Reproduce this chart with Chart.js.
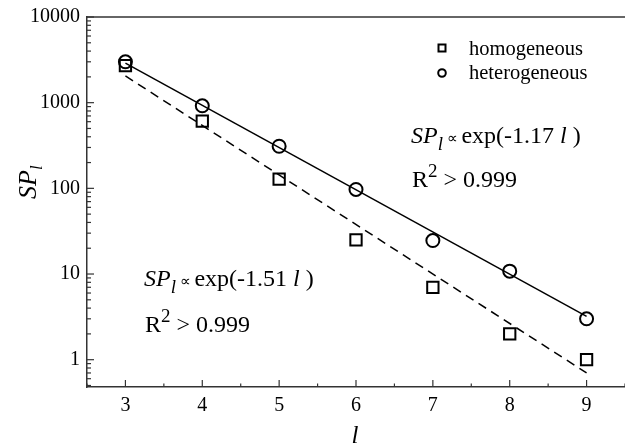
<!DOCTYPE html>
<html>
<head>
<meta charset="utf-8">
<script src="https://cdn.jsdelivr.net/npm/chart.js@4/dist/chart.umd.min.js"></script>
<style>
  html, body { margin: 0; padding: 0; background: #fff; }
  #wrap { width: 625px; height: 444px; }
</style>
</head>
<body>
<div id="wrap"><canvas id="chart" width="625" height="444"></canvas></div>
<script>
const lValues = [3, 4, 5, 6, 7, 8, 9];
const homogeneous = [2700, 610, 128, 25, 7, 2, 1];
const heterogeneous = [3000, 920, 310, 97, 24.6, 10.8, 3];
const fitL = [3, 9];
const fitHetero = [2900, 3.2];
const fitHomo = [2050, 0.7];
const xTickLabels = ['3', '4', '5', '6', '7', '8', '9'];
const yTickLabels = [1, 10, 100, 1000, 10000];

const serif = "'Liberation Serif', 'Times New Roman', serif";
const axisColor = '#333';

const toPoints = (xs, ys) => xs.map((x, i) => ({ x, y: ys[i] }));
const isMajorY = (v) => yTickLabels.includes(v);

// draw a run of text pieces with their own font and vertical shift
function drawRuns(ctx, x, y, runs) {
  let cx = x;
  runs.forEach((r) => {
    ctx.font = r.font;
    ctx.fillText(r.t, cx, y + (r.dy || 0));
    cx += ctx.measureText(r.t).width;
  });
}

const decorPlugin = {
  id: 'decor',
  afterDraw(chart) {
    const ctx = chart.ctx;
    const area = chart.chartArea;
    const xs = chart.scales.x;
    const ys = chart.scales.y;
    ctx.save();
    ctx.strokeStyle = axisColor;
    ctx.lineWidth = 1.5;

    // top frame line
    ctx.beginPath();
    ctx.moveTo(area.left, area.top);
    ctx.lineTo(area.right, area.top);
    ctx.stroke();

    // inward tick marks
    ctx.lineWidth = 1.2;
    xs.ticks.forEach((t) => {
      const px = xs.getPixelForValue(t.value);
      const len = Number.isInteger(t.value) ? 7 : 3.5;
      ctx.beginPath();
      ctx.moveTo(px, area.bottom);
      ctx.lineTo(px, area.bottom - len);
      ctx.stroke();
    });
    ys.ticks.forEach((t) => {
      const py = ys.getPixelForValue(t.value);
      const len = isMajorY(t.value) ? 7 : 4;
      ctx.beginPath();
      ctx.moveTo(area.left, py);
      ctx.lineTo(area.left + len, py);
      ctx.stroke();
    });

    ctx.fillStyle = '#000';
    ctx.textAlign = 'left';
    ctx.textBaseline = 'alphabetic';

    // legend
    ctx.strokeStyle = '#000';
    ctx.lineWidth = 2;
    ctx.strokeRect(438.5, 44.5, 7, 7);
    ctx.beginPath();
    ctx.arc(442, 73, 3.8, 0, Math.PI * 2);
    ctx.stroke();
    ctx.font = `20.5px ${serif}`;
    ctx.fillText('homogeneous', 469, 55);
    ctx.fillText('heterogeneous', 469, 79);

    // fit annotations
    const formula = (k) => [
      { t: 'SP', font: `italic 24px ${serif}` },
      { t: 'l', font: `italic 19px ${serif}`, dy: 7 },
      { t: ' \u221D ', font: `15px ${serif}` },
      { t: `exp(-${k} `, font: `24px ${serif}` },
      { t: 'l', font: `italic 24px ${serif}` },
      { t: ' )', font: `24px ${serif}` },
    ];
    const r2 = [
      { t: 'R', font: `24px ${serif}` },
      { t: '2', font: `19px ${serif}`, dy: -10 },
      { t: ' > 0.999', font: `24px ${serif}` },
    ];
    drawRuns(ctx, 411, 143, formula('1.17'));
    drawRuns(ctx, 412, 187, r2);
    drawRuns(ctx, 144, 286, formula('1.51'));
    drawRuns(ctx, 145, 332, r2);

    // axis titles
    ctx.font = `italic 25px ${serif}`;
    ctx.textAlign = 'center';
    ctx.fillText('l', 355, 443);

    ctx.save();
    ctx.translate(36, 199);
    ctx.rotate(-Math.PI / 2);
    ctx.textAlign = 'left';
    drawRuns(ctx, 0, 0, [
      { t: 'SP', font: `italic 26px ${serif}` },
      { t: 'l', font: `italic 17px ${serif}`, dy: 6 },
    ]);
    ctx.restore();

    ctx.restore();
  },
};

new Chart(document.getElementById('chart'), {
  type: 'scatter',
  data: {
    datasets: [
      {
        label: 'fit heterogeneous',
        type: 'line',
        data: toPoints(fitL, fitHetero),
        borderColor: '#000',
        borderWidth: 1.5,
        pointRadius: 0,
        fill: false,
      },
      {
        label: 'fit homogeneous',
        type: 'line',
        data: toPoints(fitL, fitHomo),
        borderColor: '#000',
        borderWidth: 1.5,
        borderDash: [9, 6],
        pointRadius: 0,
        fill: false,
      },
      {
        label: 'homogeneous',
        data: toPoints(lValues, homogeneous),
        pointStyle: 'rect',
        pointRadius: 8,
        borderColor: '#000',
        backgroundColor: 'rgba(0,0,0,0)',
        borderWidth: 2,
      },
      {
        label: 'heterogeneous',
        data: toPoints(lValues, heterogeneous),
        pointStyle: 'circle',
        pointRadius: 6.5,
        borderColor: '#000',
        backgroundColor: 'rgba(0,0,0,0)',
        borderWidth: 2,
      },
    ],
  },
  options: {
    responsive: false,
    animation: false,
    devicePixelRatio: 1,
    layout: { autoPadding: false, padding: { top: 17, right: 0, bottom: 0, left: 0 } },
    plugins: { legend: { display: false }, tooltip: { enabled: false } },
    scales: {
      x: {
        type: 'linear',
        min: 2.5,
        max: 9.5,
        grid: { display: false, drawTicks: false },
        border: { display: true, color: axisColor, width: 1.5 },
        ticks: {
          stepSize: 0.5,
          autoSkip: false,
          maxRotation: 0,
          padding: 7,
          color: '#000',
          font: { family: serif, size: 20 },
          callback: (v) => (xTickLabels.includes(String(v)) ? String(v) : ''),
        },
        afterFit: (s) => { s.height = 57; s.paddingLeft = 0; s.paddingRight = 0; },
      },
      y: {
        type: 'logarithmic',
        min: 0.48,
        max: 10000,
        grid: { display: false, drawTicks: false },
        border: { display: true, color: axisColor, width: 1.5 },
        afterBuildTicks: (s) => {
          const ticks = [];
          for (let e = -1; e <= 3; e++) {
            for (let m = 1; m <= 9; m++) {
              const v = Number((m * Math.pow(10, e)).toPrecision(3));
              if (v >= 0.5) ticks.push({ value: v });
            }
          }
          ticks.push({ value: 10000 });
          s.ticks = ticks;
        },
        ticks: {
          autoSkip: false,
          padding: 7,
          color: '#000',
          font: { family: serif, size: 20 },
          callback: (v) => (isMajorY(v) ? String(v) : ''),
        },
        afterFit: (s) => { s.width = 87; s.paddingTop = 0; s.paddingBottom = 0; },
      },
    },
  },
  plugins: [decorPlugin],
});
</script>
</body>
</html>
